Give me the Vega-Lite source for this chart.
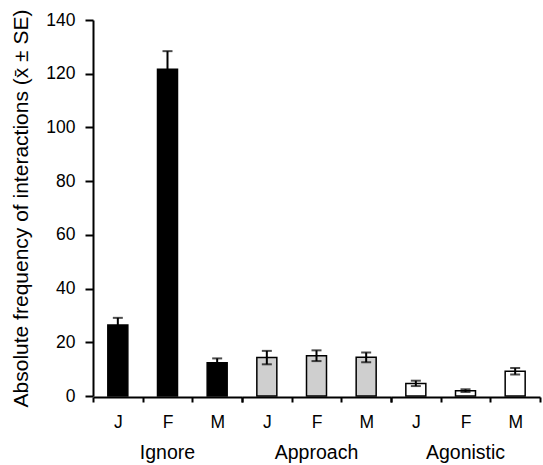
{
  "$schema": "https://vega.github.io/schema/vega-lite/v6.json",
  "padding": {"left": 10, "top": 9, "right": 3, "bottom": 5},
  "background": "white",
  "data": {"values": [
    {"group": "Ignore", "cond": "J", "mean": 26.4, "se": 2.7},
    {"group": "Ignore", "cond": "F", "mean": 121.7, "se": 6.7},
    {"group": "Ignore", "cond": "M", "mean": 12.4, "se": 1.6},
    {"group": "Approach", "cond": "J", "mean": 14.3, "se": 2.5},
    {"group": "Approach", "cond": "F", "mean": 15.0, "se": 2.0},
    {"group": "Approach", "cond": "M", "mean": 14.4, "se": 1.8},
    {"group": "Agonistic", "cond": "J", "mean": 4.7, "se": 1.0},
    {"group": "Agonistic", "cond": "F", "mean": 2.0, "se": 0.5},
    {"group": "Agonistic", "cond": "M", "mean": 9.2, "se": 1.2}
  ]},
  "facet": {
    "column": {
      "field": "group", "type": "nominal",
      "sort": ["Ignore", "Approach", "Agonistic"],
      "header": {"labelOrient": "bottom", "title": null, "labelFontSize": 19.5, "labelFont": "Liberation Sans", "labelColor": "black", "labelPadding": 13}
    }
  },
  "spacing": 0,
  "spec": {
    "width": 149,
    "height": 376,
    "encoding": {
      "x": {
        "field": "cond", "type": "nominal", "sort": ["J", "F", "M"],
        "scale": {"paddingInner": 0, "paddingOuter": 0},
        "axis": {"title": null, "labelAngle": 0, "tickBand": "extent", "tickSize": 5, "labelPadding": 11}
      }
    },
    "layer": [
      {
        "mark": {"type": "bar", "width": 20, "stroke": "black", "strokeWidth": 1.5},
        "encoding": {
          "y": {
            "field": "mean", "type": "quantitative",
            "title": "Absolute frequency of interactions (x\u0304 ± SE)",
            "scale": {"domain": [0, 140], "nice": false},
            "axis": {"values": [0, 20, 40, 60, 80, 100, 120, 140], "tickSize": 8, "labelPadding": 10, "titlePadding": 14, "grid": false}
          },
          "fill": {
            "field": "group", "type": "nominal",
            "scale": {"domain": ["Ignore", "Approach", "Agonistic"], "range": ["black", "#cfcfcf", "white"]},
            "legend": null
          }
        }
      },
      {
        "mark": {"type": "errorbar", "color": "black", "thickness": 2, "ticks": {"size": 10, "thickness": 2, "color": "black"}},
        "encoding": {
          "y": {"field": "mean", "type": "quantitative", "title": "Absolute frequency of interactions (x\u0304 ± SE)"},
          "yError": {"field": "se"}
        }
      }
    ]
  },
  "config": {
    "view": {"stroke": null},
    "font": "Liberation Sans",
    "axis": {
      "domainColor": "black", "domainWidth": 2,
      "tickColor": "black", "tickWidth": 2,
      "labelColor": "black", "labelFontSize": 17.5, "labelFont": "Liberation Sans",
      "titleColor": "black", "titleFontSize": 21, "titleFontWeight": "normal", "titleFont": "Liberation Sans"
    }
  }
}
